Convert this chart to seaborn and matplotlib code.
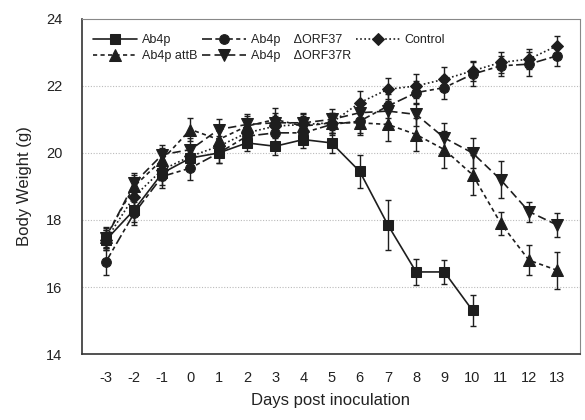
import matplotlib
matplotlib.use("Agg")
import matplotlib.pyplot as plt
import seaborn as sns
import pandas as pd
import numpy as np

days = [-3, -2, -1, 0, 1, 2, 3, 4, 5, 6, 7, 8, 9, 10, 11, 12, 13]

ab4p_days = [-3, -2, -1, 0, 1, 2, 3, 4, 5, 6, 7, 8, 9, 10]
ab4p = [17.4, 18.3, 19.4, 19.85, 20.0, 20.3, 20.2, 20.4, 20.3, 19.45, 17.85, 16.45, 16.45, 15.3]
ab4p_err = [0.3, 0.35, 0.35, 0.35, 0.3, 0.25, 0.25, 0.25, 0.3, 0.5, 0.75, 0.4, 0.35, 0.45]

attb = [17.5, 19.0, 19.8, 20.7, 20.4, 20.8, 21.0, 20.8, 20.9, 20.9, 20.85, 20.55, 20.1, 19.35, 17.9, 16.8, 16.5]
attb_err = [0.3, 0.35, 0.35, 0.35, 0.3, 0.3, 0.35, 0.3, 0.3, 0.35, 0.5, 0.5, 0.55, 0.6, 0.35, 0.45, 0.55]

orf37 = [16.75, 18.2, 19.3, 19.55, 20.0, 20.5, 20.6, 20.6, 20.85, 20.95, 21.4, 21.8, 21.95, 22.35, 22.6, 22.65, 22.9]
orf37_err = [0.4, 0.35, 0.35, 0.35, 0.3, 0.3, 0.35, 0.3, 0.3, 0.35, 0.35, 0.35, 0.35, 0.35, 0.3, 0.35, 0.3]

orf37r = [17.45, 19.1, 19.95, 20.1, 20.7, 20.85, 20.9, 20.9, 21.0, 21.2, 21.25, 21.15, 20.45, 20.0, 19.2, 18.25, 17.85]
orf37r_err = [0.3, 0.3, 0.3, 0.35, 0.3, 0.3, 0.3, 0.3, 0.3, 0.35, 0.35, 0.35, 0.45, 0.45, 0.55, 0.3, 0.35]

control = [17.4, 18.7, 19.5, 19.9, 20.2, 20.6, 20.8, 20.85, 20.9, 21.5, 21.9, 22.0, 22.2, 22.45, 22.7, 22.8, 23.2]
control_err = [0.3, 0.3, 0.3, 0.3, 0.3, 0.3, 0.3, 0.3, 0.3, 0.35, 0.35, 0.35, 0.35, 0.3, 0.3, 0.3, 0.3]

labels = ["Ab4p", "Ab4p attB", "Ab4p    \u0394ORF37", "Ab4p    \u0394ORF37R", "Control"]

series = [
    (labels[0], ab4p_days, ab4p, ab4p_err, "-", "s", 6.5),
    (labels[1], days, attb, attb_err, (0, (2.5, 2)), "^", 8),
    (labels[2], days, orf37, orf37_err, (0, (6, 2, 2.5, 2)), "o", 7),
    (labels[3], days, orf37r, orf37r_err, (0, (5, 2.5)), "v", 8),
    (labels[4], days, control, control_err, (0, (1, 1.5)), "D", 6),
]

sns.set_theme(style="white")
plt.rcParams["font.family"] = ["Liberation Sans", "DejaVu Sans"]
plt.rcParams["axes.unicode_minus"] = False

fig = plt.figure(figsize=(5.85, 4.2), dpi=100)
ax = fig.add_axes([0.14, 0.157, 0.851, 0.798])

col = "#1e1e1e"
for name, x, y, e, ls, mk, ms in series:
    df = pd.DataFrame({"day": x, "weight": y})
    sns.lineplot(data=df, x="day", y="weight", ax=ax, color=col, linestyle=ls,
                 marker=mk, markersize=ms, markeredgecolor=col, linewidth=1.2,
                 label=name, errorbar=None)
    ax.errorbar(x, y, yerr=e, fmt="none", ecolor=col, elinewidth=1.0, capsize=2.5, capthick=1.0)

ax.set_xlim(-3.85, 13.8)
ax.set_ylim(14, 24)
ax.set_xticks(days)
ax.set_yticks([14, 16, 18, 20, 22, 24])
ax.tick_params(axis="both", length=0, labelsize=10.5, colors="#222222")
ax.tick_params(axis="y", pad=14)
ax.tick_params(axis="x", pad=12)
for g in [16, 18, 20, 22]:
    ax.axhline(g, color="#bbbbbb", linestyle=(0, (1, 1.5)), linewidth=0.8, zorder=0)

ax.set_xlabel("Days post inoculation", fontsize=12, color="#222222", labelpad=6)
ax.set_ylabel("Body Weight (g)", fontsize=12, color="#222222", labelpad=10)

for s in ["left", "bottom"]:
    ax.spines[s].set_color("#333333")
    ax.spines[s].set_linewidth(1.2)
for s in ["top", "right"]:
    ax.spines[s].set_color("#888888")
    ax.spines[s].set_linewidth(0.8)
    ax.spines[s].set_linestyle((0, (1, 1)))

leg = ax.legend(loc="upper left", ncol=3, frameon=False, fontsize=9,
                handlelength=3.5, columnspacing=0.4, handletextpad=0.4,
                labelspacing=0.35, borderaxespad=0.0, bbox_to_anchor=(0.012, 0.97))
for t in leg.get_texts():
    t.set_color("#222222")

fig.savefig("out.png", dpi=100)
